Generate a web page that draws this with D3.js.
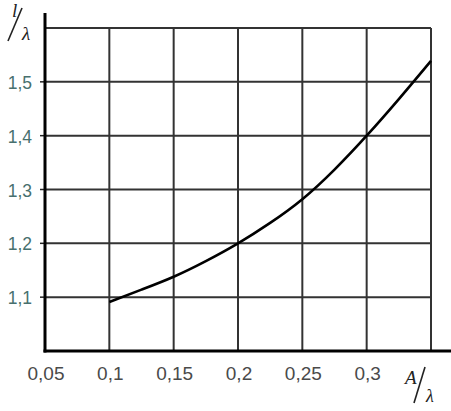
<!DOCTYPE html>
<html><head><meta charset="utf-8">
<script src="https://cdn.jsdelivr.net/npm/d3@7"></script>
<style>body{margin:0;background:#fff}svg{display:block}</style>
</head><body>
<script>
const xTicks = [0.05, 0.1, 0.15, 0.2, 0.25, 0.3];
const xTickLabels = ["0,05", "0,1", "0,15", "0,2", "0,25", "0,3"];
const xGrid = [0.1, 0.15, 0.2, 0.25, 0.3, 0.35];
const yTicks = [1.1, 1.2, 1.3, 1.4, 1.5];
const yTickLabels = ["1,1", "1,2", "1,3", "1,4", "1,5"];
const yGrid = [1.1, 1.2, 1.3, 1.4, 1.5, 1.6];
const curveX = [0.1, 0.125, 0.15, 0.175, 0.2, 0.225, 0.25, 0.275, 0.3, 0.325, 0.35];
const curveY = [1.091, 1.114, 1.138, 1.167, 1.2, 1.238, 1.282, 1.337, 1.4, 1.468, 1.539];

const W = 451, H = 411;
const svg = d3.select("body").append("svg").attr("width", W).attr("height", H);
const x = d3.scaleLinear().domain([0.05, 0.35]).range([45, 431]);
const y = d3.scaleLinear().domain([1.0, 1.6]).range([351, 28]);

// grid
svg.append("g").selectAll("line").data(yGrid).join("line")
  .attr("x1", x(0.05)).attr("x2", x(0.35))
  .attr("y1", d => y(d)).attr("y2", d => y(d))
  .attr("stroke", "#333").attr("stroke-width", 2);
svg.append("g").selectAll("line").data(xGrid).join("line")
  .attr("x1", d => x(d)).attr("x2", d => x(d))
  .attr("y1", y(1.0)).attr("y2", y(1.6))
  .attr("stroke", "#333").attr("stroke-width", 2);

// y tick marks
svg.append("g").selectAll("line").data(yTicks).join("line")
  .attr("x1", x(0.05) - 5).attr("x2", x(0.05))
  .attr("y1", d => y(d)).attr("y2", d => y(d))
  .attr("stroke", "#222").attr("stroke-width", 1.5);

// axes
svg.append("line").attr("x1", x(0.05)).attr("x2", x(0.05))
  .attr("y1", 13).attr("y2", y(1.0) + 1.5)
  .attr("stroke", "#000").attr("stroke-width", 3);
svg.append("line").attr("x1", x(0.05) - 1.5).attr("x2", W)
  .attr("y1", y(1.0)).attr("y2", y(1.0))
  .attr("stroke", "#000").attr("stroke-width", 3);

// curve
const pts = curveX.map((d, i) => [d, curveY[i]]);
svg.append("path").datum(pts)
  .attr("d", d3.line().x(d => x(d[0])).y(d => y(d[1])).curve(d3.curveNatural))
  .attr("fill", "none").attr("stroke", "#000").attr("stroke-width", 2.6);

// x labels
svg.append("g").selectAll("text").data(xTicks).join("text")
  .attr("x", d => x(d) + 1).attr("y", 380)
  .attr("text-anchor", "middle")
  .attr("font-family", "Liberation Sans, Arial, sans-serif")
  .attr("font-size", 19).attr("fill", "#4a4a4a")
  .text((d, i) => xTickLabels[i]);

// y labels
svg.append("g").selectAll("text").data(yTicks).join("text")
  .attr("x", 32).attr("y", d => y(d) + 7)
  .attr("text-anchor", "end")
  .attr("font-family", "Liberation Sans, Arial, sans-serif")
  .attr("font-size", 17.5).attr("fill", "#47706e")
  .text((d, i) => yTickLabels[i]);

// axis titles: l/λ and A/λ
const serif = "Liberation Serif, DejaVu Serif, serif";
const t1 = svg.append("g");
t1.append("text").attr("x", 12).attr("y", 17).attr("font-family", serif)
  .attr("font-style", "italic").attr("font-size", 19).attr("fill", "#222").text("l");
t1.append("line").attr("x1", 22).attr("y1", 8).attr("x2", 8).attr("y2", 41)
  .attr("stroke", "#222").attr("stroke-width", 1.6);
t1.append("text").attr("x", 22).attr("y", 40).attr("font-family", serif)
  .attr("font-style", "italic").attr("font-size", 19).attr("fill", "#222").text("λ");

const t2 = svg.append("g");
t2.append("text").attr("x", 405).attr("y", 384).attr("font-family", serif)
  .attr("font-style", "italic").attr("font-size", 19).attr("fill", "#222").text("A");
t2.append("line").attr("x1", 425).attr("y1", 367).attr("x2", 414).attr("y2", 403)
  .attr("stroke", "#222").attr("stroke-width", 1.6);
t2.append("text").attr("x", 426).attr("y", 402).attr("font-family", serif)
  .attr("font-style", "italic").attr("font-size", 18).attr("fill", "#222").text("λ");
</script>
</body></html>
